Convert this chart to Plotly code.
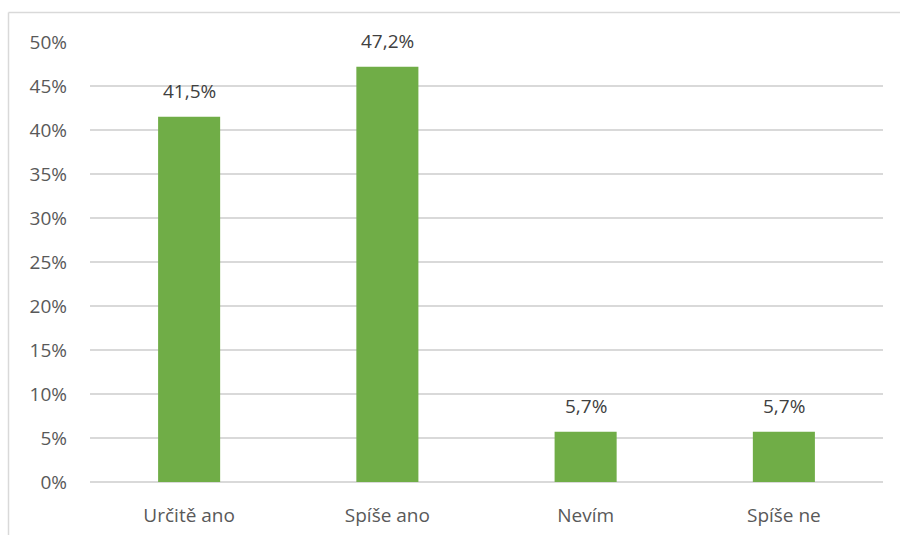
import plotly.graph_objects as go

categories = ["Určitě ano", "Spíše ano", "Nevím", "Spíše ne"]
shares = [0.415, 0.472, 0.057, 0.057]
y_ticks = [0, 0.05, 0.10, 0.15, 0.20, 0.25, 0.30, 0.35, 0.40, 0.45, 0.50]

W, H = 900, 535
ml, mr, mt, mb = 90, 17, 42, 53
pw, ph = W - ml - mr, H - mt - mb

fig = go.Figure(go.Bar(
    x=categories,
    y=shares,
    marker=dict(color="#70AD47", line=dict(width=0)),
    cliponaxis=False,
))

# value labels above each bar
for cat, val in zip(categories, shares):
    fig.add_annotation(
        x=cat, y=val, text=f"{val * 100:.1f}%".replace(".", ","),
        showarrow=False, yanchor="bottom", yshift=11,
        font=dict(size=19, color="#404040"),
    )

grid = "#D9D9D9"
# chart-area frame (top and left edges visible)
fx0 = (8.5 - ml) / pw
fy1 = (H - mb - 12.5) / ph
fig.add_shape(type="line", xref="paper", yref="paper", x0=fx0, x1=(W + 5 - ml) / pw,
              y0=fy1, y1=fy1, line=dict(color=grid, width=1.5))
fig.add_shape(type="line", xref="paper", yref="paper", x0=fx0, x1=fx0,
              y0=fy1, y1=(H - mb - H - 5) / ph, line=dict(color=grid, width=1.5))

fig.update_layout(
    width=W, height=H,
    margin=dict(l=ml, r=mr, t=mt, b=mb),
    paper_bgcolor="white", plot_bgcolor="white",
    separators=", ",
    bargap=0.687,
    showlegend=False,
    font=dict(family="Open Sans, Liberation Sans, sans-serif", size=19, color="#595959"),
    xaxis=dict(showgrid=False, showline=False, ticks="", ticklabelstandoff=20,
               automargin=False, tickfont=dict(size=19, color="#595959")),
    yaxis=dict(range=[0, 0.5], tickvals=y_ticks, tickformat=".0%",
               showgrid=True, gridcolor=grid, gridwidth=1.5,
               zeroline=True, zerolinecolor=grid, zerolinewidth=1.5,
               showline=False, ticks="", ticklabelstandoff=22, automargin=False,
               tickfont=dict(size=19, color="#595959")),
)

fig.write_html("out.html")
